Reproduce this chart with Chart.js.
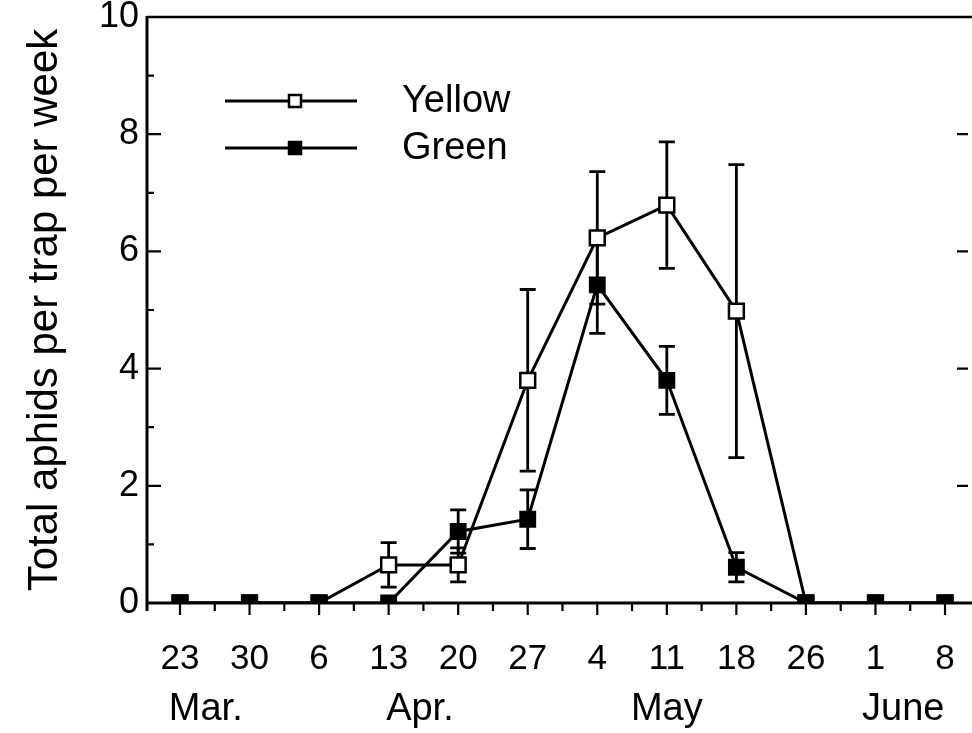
<!DOCTYPE html>
<html><head><meta charset="utf-8">
<script src="https://cdn.jsdelivr.net/npm/chart.js@4/dist/chart.umd.min.js"></script>
<style>html,body{margin:0;padding:0;background:#fff;}#wrap{width:972px;height:733px;}</style>
</head><body><div id="wrap"><canvas id="c" width="972" height="733"></canvas></div>
<script>
// ---- data ----
const dates = ['23','30','6','13','20','27','4','11','18','26','1','8'];
const months = ['Mar.','Apr.','May','June'];
const monthAt = [0.37, 3.45, 7.0, 10.4];
const yellow   = [0,0,0,0.65,0.65,3.8,6.23,6.79,4.98,0,0,0];
const yellowSE = [0,0,0,0.38,0.29,1.55,1.13,1.08,2.5,0,0,0];
const green    = [0,0,0,0,1.22,1.43,5.43,3.8,0.61,0,0,0];
const greenSE  = [0,0,0,0,0.37,0.5,0.83,0.58,0.25,0,0,0];
const yTicks = [0,2,4,6,8,10];
const yTitle = 'Total aphids per trap per week';

const FONT = "'Liberation Sans', Arial, Helvetica, sans-serif";
const XMIN = -0.4745, XMAX = 11.388;

const pts = arr => arr.map((v,i)=>({x:i,y:v}));
const noPad = s => { s.paddingLeft = 0; s.paddingRight = 0; s.paddingTop = 0; s.paddingBottom = 0; };

const errorBars = {
  id:'errorBars',
  beforeDatasetsDraw(chart){
    const ctx = chart.ctx, ys = chart.scales.y;
    const sets = [[yellow,yellowSE,0],[green,greenSE,1]];
    ctx.save();
    ctx.strokeStyle='#000'; ctx.lineWidth=2.8;
    sets.forEach(([vals,se,di])=>{
      const meta = chart.getDatasetMeta(di);
      vals.forEach((v,i)=>{
        if(!se[i]) return;
        const x = meta.data[i].x;
        const yt = ys.getPixelForValue(v+se[i]);
        const yb = ys.getPixelForValue(v-se[i]);
        ctx.beginPath();
        ctx.moveTo(x,yt); ctx.lineTo(x,yb);
        ctx.moveTo(x-8,yt); ctx.lineTo(x+8,yt);
        ctx.moveTo(x-8,yb); ctx.lineTo(x+8,yb);
        ctx.stroke();
      });
    });
    ctx.restore();
  }
};

const frame = {
  id:'frame',
  beforeDatasetsDraw(chart){
    const ctx = chart.ctx, a = chart.chartArea, xs = chart.scales.x, ys = chart.scales.y;
    ctx.save();
    ctx.strokeStyle='#000';
    ctx.lineWidth=3;
    ctx.beginPath();
    ctx.moveTo(a.left, a.top-1); ctx.lineTo(a.left, a.bottom+8);
    ctx.moveTo(a.left-1, a.bottom); ctx.lineTo(a.right, a.bottom);
    ctx.stroke();
    ctx.lineWidth=2.5;
    ctx.beginPath();
    ctx.moveTo(a.left, a.top); ctx.lineTo(a.right, a.top);
    ctx.stroke();
    ctx.lineWidth=2.2;
    ctx.beginPath();
    for(let v=1; v<10; v++){
      const y = ys.getPixelForValue(v);
      const len = (v%2===0)?14:7;
      ctx.moveTo(a.left, y); ctx.lineTo(a.left+len, y);
      if(v%2===0){ ctx.moveTo(a.right-4, y); ctx.lineTo(a.right-15, y); }
    }
    for(let k=0;k<dates.length*2;k++){
      const x = xs.getPixelForValue(k/2);
      if(x>a.right) continue;
      ctx.moveTo(x, a.bottom); ctx.lineTo(x, a.bottom + (k%2===0?12:8));
    }
    ctx.stroke();
    ctx.restore();
  }
};

const legendBox = {
  id:'legendBox',
  afterDraw(chart){
    const ctx = chart.ctx;
    const items = [['Yellow','#fff',101],['Green','#000',148]];
    ctx.save();
    items.forEach(([label,fill,y])=>{
      ctx.strokeStyle='#000'; ctx.lineWidth=2.8;
      ctx.beginPath(); ctx.moveTo(225,y); ctx.lineTo(357,y); ctx.stroke();
      ctx.fillStyle=fill; ctx.lineWidth=2.5;
      ctx.beginPath(); ctx.rect(289,y-6,12,12); ctx.fill(); ctx.stroke();
      ctx.fillStyle='#000';
      ctx.font = "38px " + FONT;
      ctx.textBaseline='middle'; ctx.textAlign='left';
      ctx.fillText(label, 402, y+1);
    });
    ctx.restore();
  }
};

new Chart(document.getElementById('c'), {
  type:'line',
  data:{
    datasets:[
      {label:'Yellow', data:pts(yellow), order:1, borderColor:'#000', borderWidth:3,
       pointStyle:'rect', pointRadius:10.5, pointBackgroundColor:'#fff', pointBorderColor:'#000', pointBorderWidth:2.5, tension:0},
      {label:'Green', data:pts(green), order:0, borderColor:'#000', borderWidth:3,
       pointStyle:'rect', pointRadius:10.5, pointBackgroundColor:'#000', pointBorderColor:'#000', pointBorderWidth:2, tension:0}
    ]
  },
  options:{
    responsive:false, animation:false, devicePixelRatio:1,
    events:[],
    layout:{autoPadding:false, padding:{top:17,right:0,left:0,bottom:0}},
    plugins:{legend:{display:false}, tooltip:{enabled:false}},
    scales:{
      x:{type:'linear', position:'bottom', weight:0, min:XMIN, max:XMAX,
        afterBuildTicks:s=>{ s.ticks = dates.map((d,i)=>({value:i})); },
        ticks:{callback:(v,i)=>dates[i], autoSkip:false, maxRotation:0, color:'#000',
          font:{family:FONT,size:35}, padding:35},
        grid:{display:false, drawTicks:false}, border:{display:false},
        afterFit:s=>{ s.height = 80; noPad(s); }
      },
      x2:{type:'linear', position:'bottom', weight:1, min:XMIN, max:XMAX,
        afterBuildTicks:s=>{ s.ticks = monthAt.map(v=>({value:v})); },
        ticks:{callback:(v,i)=>months[i], autoSkip:false, maxRotation:0, color:'#000',
          font:{family:FONT,size:38}, padding:4},
        grid:{display:false, drawTicks:false}, border:{display:false},
        afterFit:s=>{ s.height = 50; noPad(s); }
      },
      y:{min:0, max:10,
        afterBuildTicks:s=>{ s.ticks = yTicks.map(v=>({value:v})); },
        ticks:{color:'#000', font:{family:FONT,size:36}, padding:8},
        grid:{display:false, drawTicks:false}, border:{display:false},
        title:{display:true, text:yTitle, color:'#000', font:{family:FONT,size:42}, padding:{top:20,bottom:0}},
        afterFit:s=>{ s.width = 147; noPad(s); }
      }
    }
  },
  plugins:[errorBars, frame, legendBox]
});
</script></body></html>
